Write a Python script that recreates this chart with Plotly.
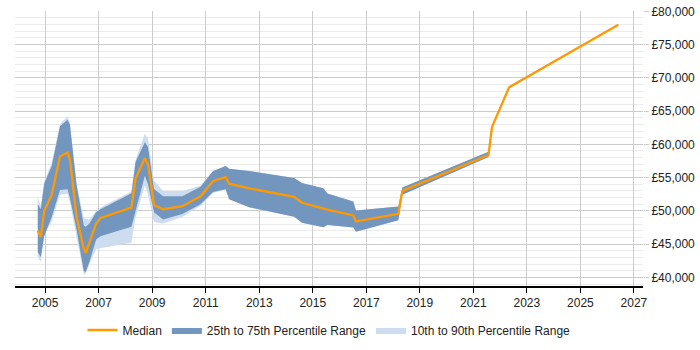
import plotly.graph_objects as go

dates = ["2004-09-23", "2004-11-03", "2004-12-20", "2005-04-01", "2005-07-23", "2005-11-03",
         "2005-12-05", "2006-03-07", "2006-06-13", "2006-07-09", "2006-08-29", "2006-11-28",
         "2007-01-26", "2008-03-24", "2008-05-18", "2008-09-23", "2008-11-05", "2009-01-26",
         "2009-05-30", "2010-02-16", "2010-10-23", "2011-04-12", "2011-10-01", "2011-11-17",
         "2012-08-17", "2014-04-23", "2014-08-07", "2015-05-26", "2015-07-20", "2016-07-08",
         "2016-08-13", "2018-03-14", "2018-05-08", "2021-07-27", "2021-09-12", "2022-05-04",
         "2026-06-02"]

median = [47000, 46085, 50020, 52410, 58170, 58750, 57790, 49060, 44270, 43690, 45220, 48100,
          48920, 50500, 54820, 57940, 56980, 50890, 50250, 50700, 52180, 54490, 55060, 54080,
          53380, 52100, 51220, 50300, 50170, 49300, 48400, 49560, 53000, 58400, 62600, 68590,
          77990]

p25 = [43780, 43060, 46180, 49060, 53140, 53240, 51940, 47150, 40900, 40810, 42340, 45710,
       46180, 47620, 50020, 55290, 54000, 49780, 48700, 49540, 50980, 52830, 53250, 51750,
       50550, 49100, 48200, 47550, 47870, 47500, 46850, 48590, 52410, 58100, 62450, 68450,
       77950]

p75 = [50980, 50250, 54100, 56730, 62730, 63700, 62980, 53860, 47800, 47620, 48100, 49780,
       50250, 52660, 57310, 60330, 59610, 53280, 52180, 52200, 53620, 56000, 56730, 56330,
       56010, 54940, 54200, 53380, 52600, 51400, 50050, 50640, 53500, 58900, 62750, 68750,
       78030]

p10 = [43060, 42340, 46400, 48400, 52410, 52520, 51300, 46180, 40430, 40500, 42000, 44270,
       44400, 45220, 49000, 53800, 52500, 48340, 48100, 49060, 50780, 52700, 53250, 51750,
       50550, 49100, 48200, 47550, 47870, 47500, 46850, 48590, 52410, 58100, 62450, 68450,
       77950]

p90 = [52040, 50700, 54400, 57220, 63060, 64170, 63200, 54100, 48900, 48820, 48670, 50020,
       50500, 52900, 57600, 61600, 60810, 54570, 52990, 52990, 53770, 56000, 56730, 56330,
       56010, 54940, 54200, 53380, 52600, 51400, 50050, 50640, 53500, 58900, 62750, 68750,
       78030]

y_ticks = [40000, 45000, 50000, 55000, 60000, 65000, 70000, 75000, 80000]
y_tick_labels = ["\u00a340,000", "\u00a345,000", "\u00a350,000", "\u00a355,000", "\u00a360,000",
                 "\u00a365,000", "\u00a370,000", "\u00a375,000", "\u00a380,000"]

fig = go.Figure()

fig.add_trace(go.Scatter(
    x=dates + dates[::-1], y=p90 + p10[::-1], fill="toself", mode="lines",
    line=dict(width=0, color="#cddcee"), fillcolor="#cddcee",
    name="10th to 90th Percentile Range", legendrank=3, hoverinfo="skip"))

fig.add_trace(go.Scatter(
    x=dates + dates[::-1], y=p75 + p25[::-1], fill="toself", mode="lines",
    line=dict(width=0, color="#7396be"), fillcolor="#7396be",
    name="25th to 75th Percentile Range", legendrank=2, hoverinfo="skip"))

fig.add_trace(go.Scatter(
    x=dates, y=median, mode="lines", line=dict(color="#ff9900", width=2.3),
    name="Median", legendrank=1))

fig.update_layout(
    width=700, height=350,
    margin=dict(l=15, r=55, t=5, b=58),
    paper_bgcolor="white", plot_bgcolor="white",
    font=dict(family="Liberation Sans, Arial, sans-serif", size=12, color="#222"),
    showlegend=True,
    legend=dict(orientation="h", x=0.5, xanchor="center", y=-0.16, yanchor="middle",
                font=dict(size=12), itemwidth=30, traceorder="normal"),
)

fig.update_xaxes(
    type="date", range=["2003-11-17", "2027-05-05"],
    tick0="2005-01-01", dtick="M24", tickformat="%Y",
    showgrid=True, gridcolor="#cccccc", gridwidth=1,
    showline=True, linecolor="#000", linewidth=1.5,
    ticks="outside", ticklen=5, tickcolor="#000",
    zeroline=False,
)

fig.update_yaxes(
    side="right", range=[38700, 80050],
    tickmode="array", tickvals=y_ticks, ticktext=y_tick_labels,
    ticklabeloverflow="allow",
    showgrid=True, gridcolor="#cccccc", gridwidth=1,
    ticks="outside", ticklen=5, tickcolor="#cccccc",
    minor=dict(dtick=1000, tick0=0, showgrid=True, gridcolor="#ebebeb", gridwidth=1),
    showline=False, zeroline=False,
)

fig.write_html("out.html")
